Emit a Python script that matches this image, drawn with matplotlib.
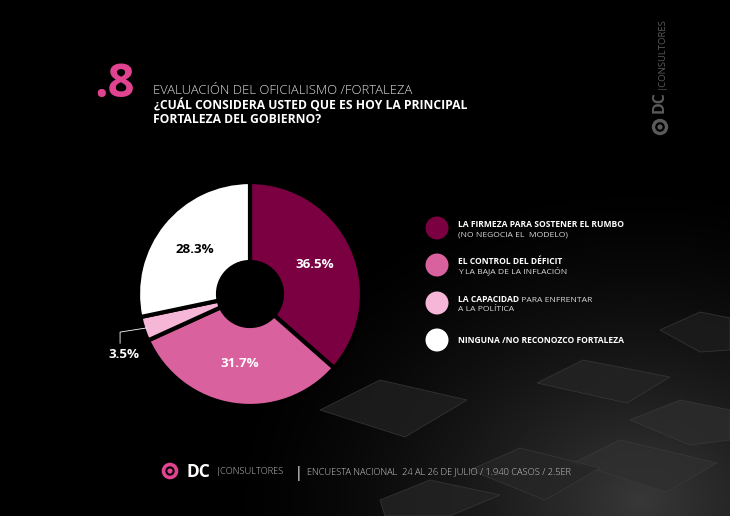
import numpy as np
import matplotlib
matplotlib.use("Agg")
from matplotlib import pyplot as plt
from matplotlib.patches import Circle, Polygon

plt.rcParams['font.family'] = ['Open Sans', 'DejaVu Sans']

# data
values = [36.5, 31.7, 3.5, 28.3]
pct_labels = ["36.5%", "31.7%", "3.5%", "28.3%"]
colors = ["#7a0042", "#d9619e", "#f6b6d7", "#ffffff"]
label_colors = ["white", "white", "white", "black"]
legend_bold = ["LA FIRMEZA PARA SOSTENER EL RUMBO", "EL CONTROL DEL DÉFICIT",
               "LA CAPACIDAD", "NINGUNA /NO RECONOZCO FORTALEZA"]
legend_rest = ["", "", " PARA ENFRENTAR", ""]
legend_line2 = ["(NO NEGOCIA EL  MODELO)", "Y LA BAJA DE LA INFLACIÓN", "A LA POLÍTICA", ""]

PINK = "#e0438f"

fig = plt.figure(figsize=(7.30, 5.16), dpi=100, facecolor="black")

# background / text layer in pixel coords
bg = fig.add_axes([0, 0, 1, 1])
bg.set_xlim(0, 730)
bg.set_ylim(516, 0)
bg.axis("off")
bg.set_facecolor("black")

# soft grey glow in the lower right (the cube backdrop)
yy, xx = np.mgrid[0:516, 0:730]
d = np.hypot((xx - 640) / 1.3, (yy - 500))
glow = np.clip(1 - d / 330, 0, 1) ** 1.6 * 0.22
bg.imshow(np.dstack([glow, glow, glow]), extent=(0, 730, 516, 0), zorder=0,
          interpolation="bilinear")

# a few rough cube faces
tiles = [
    ([(320, 410), (380, 380), (467, 400), (405, 437)], "#202020"),
    ([(537, 383), (583, 360), (670, 377), (627, 403)], "#242424"),
    ([(573, 463), (620, 440), (717, 463), (667, 492)], "#2f2f2f"),
    ([(470, 470), (520, 448), (600, 468), (545, 500)], "#262626"),
    ([(660, 330), (700, 312), (730, 318), (730, 350), (700, 352)], "#1d1d1d"),
    ([(630, 420), (680, 400), (730, 410), (730, 440), (690, 445)], "#2c2c2c"),
    ([(380, 500), (430, 480), (500, 495), (450, 516), (385, 516)], "#242424"),
]
for pts, c in tiles:
    bg.add_patch(Polygon(pts, closed=True, facecolor=c, edgecolor="#3a3a3a",
                         linewidth=0.6, alpha=0.8, zorder=1))

# title block
bg.text(94, 97, ".8", color=PINK, fontsize=34, fontweight="bold", va="baseline", ha="left")
bg.text(153, 94, "EVALUACIÓN DEL OFICIALISMO /FORTALEZA", color="#e0e0e0",
        fontsize=9.4, fontweight="light", va="baseline", ha="left")
bg.text(154, 109, "¿CUÁL CONSIDERA USTED QUE ES HOY LA PRINCIPAL", color="white",
        fontsize=8.7, fontweight="bold", va="baseline", ha="left")
bg.text(153, 123, "FORTALEZA DEL GOBIERNO?", color="white",
        fontsize=8.7, fontweight="bold", va="baseline", ha="left")

# pie
cx, cy, R = 250, 294, 112
pie_ax = fig.add_axes([(cx - R) / 730, (516 - cy - R) / 516, 2 * R / 730, 2 * R / 516])
pie_ax.set_facecolor("none")
wedges, _ = pie_ax.pie(values, colors=colors, startangle=90, counterclock=False,
                       radius=1.0,
                       wedgeprops=dict(width=1 - 32 / R, edgecolor="black", linewidth=3))
pie_ax.set_xlim(-1, 1)
pie_ax.set_ylim(-1, 1)
pie_ax.set_aspect("equal")
pie_ax.axis("off")

for i, w in enumerate(wedges):
    ang = np.deg2rad((w.theta1 + w.theta2) / 2)
    if values[i] < 5:
        x0, y0 = 0.97 * np.cos(ang), 0.97 * np.sin(ang)
        pie_ax.plot([x0, -1.16, -1.16], [y0, -0.34, -0.44], color="white",
                    linewidth=0.6, clip_on=False)
        pie_ax.text(-1.13, -0.54, pct_labels[i], color=label_colors[i], fontsize=9.6,
                    fontweight="bold", ha="center", va="center", clip_on=False)
    else:
        r = 0.63
        pie_ax.text(r * np.cos(ang), r * np.sin(ang), pct_labels[i], color=label_colors[i],
                    fontsize=9.6, fontweight="bold", ha="center", va="center")

# legend
leg_y = [228, 265, 303, 340]
LFS = 6.1
for i in range(len(values)):
    y = leg_y[i]
    bg.add_patch(Circle((437, y), 11.5, facecolor=colors[i], edgecolor="none", zorder=3))
    if legend_line2[i]:
        t = bg.text(458, y - 1, legend_bold[i], color="white", fontsize=LFS,
                    fontweight="bold", va="baseline", ha="left")
        if legend_rest[i]:
            bg.annotate(legend_rest[i], xy=(1, 0), xycoords=t, va="bottom", ha="left",
                        color="#d8d8d8", fontsize=LFS)
        bg.text(458, y + 8, legend_line2[i], color="#d8d8d8", fontsize=LFS,
                va="baseline", ha="left")
    else:
        bg.text(458, y + 3, legend_bold[i], color="white", fontsize=LFS,
                fontweight="bold", va="baseline", ha="left")

# footer logo and survey note
bg.add_patch(Circle((170, 471), 6.5, facecolor="none", edgecolor=PINK, linewidth=2.6, zorder=3))
bg.add_patch(Circle((170, 471), 2.6, facecolor=PINK, edgecolor="none", zorder=3))
bg.text(187, 477, "DC", color="white", fontsize=12.5, fontweight="bold", va="baseline", ha="left")
bg.text(216, 474, "|CONSULTORES", color="#c8c8c8", fontsize=6.7, fontweight="light",
        va="baseline", ha="left")
bg.text(295, 477, "|", color="white", fontsize=10, va="baseline", ha="left")
bg.text(307, 474, "ENCUESTA NACIONAL  24 AL 26 DE JULIO / 1.940 CASOS / 2.5ER", color="#d0d0d0",
        fontsize=6.7, fontweight="light", va="baseline", ha="left")

# vertical logo on the right
GREY = "#5a5a5a"
bg.add_patch(Circle((660, 127), 6.5, facecolor="none", edgecolor=GREY, linewidth=2.4, zorder=3))
bg.add_patch(Circle((660, 127), 2.6, facecolor=GREY, edgecolor="none", zorder=3))
bg.text(660, 113, "DC", color=GREY, fontsize=11.5, fontweight="bold", rotation=90,
        va="bottom", ha="center")
bg.text(661, 89, "|CONSULTORES", color=GREY, fontsize=6.8, rotation=90,
        va="bottom", ha="center")

fig.savefig("out.png", dpi=100, facecolor="black")
